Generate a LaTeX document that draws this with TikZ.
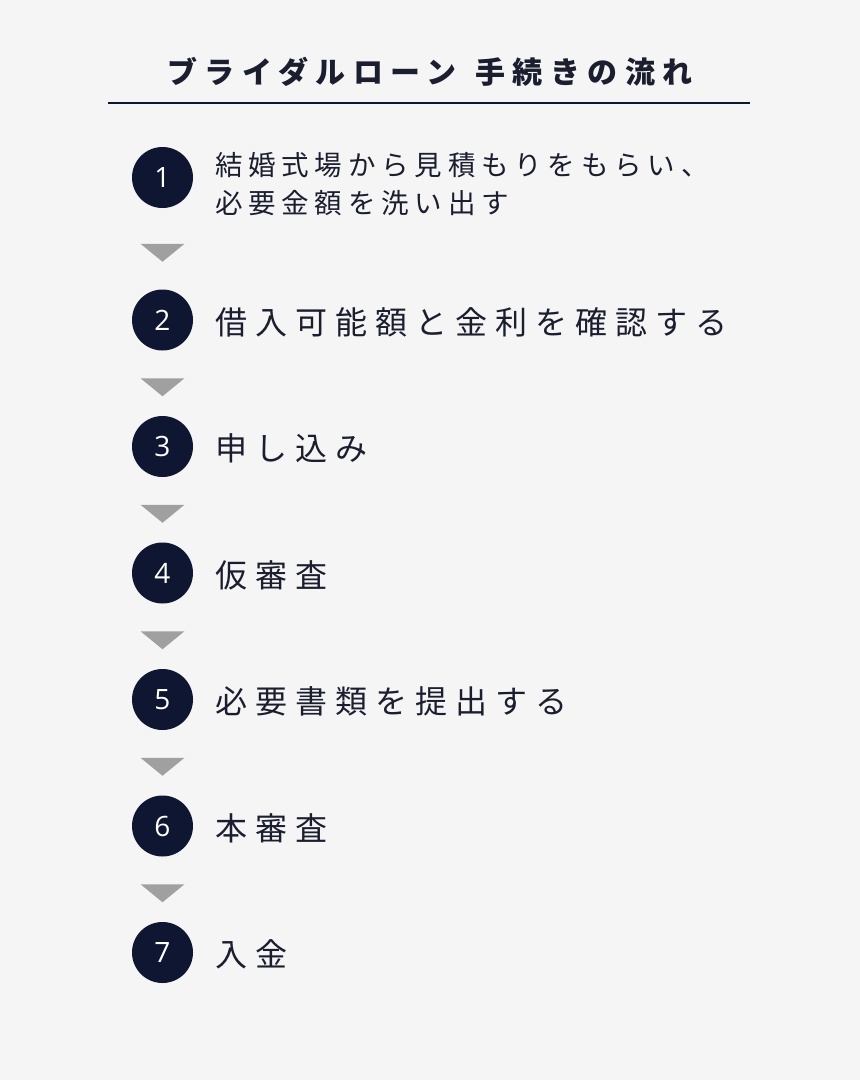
\documentclass[tikz,border=0pt]{standalone}
\usepackage{fontspec}
\setmainfont{Noto Sans CJK JP}
\newfontfamily\jpfont[LetterSpace=25]{Noto Sans CJK JP}
\newfontfamily\numfont{Open Sans}
\usetikzlibrary{positioning,calc}
\definecolor{navy}{HTML}{0F1631}
\definecolor{bggray}{HTML}{F5F5F5}
\definecolor{arrowgray}{HTML}{A0A0A0}
\definecolor{inkblue}{HTML}{1B1E2E}

\begin{document}
\begin{tikzpicture}[x=1pt, y=-1pt, num/.style={circle, fill=navy, minimum size=61pt, inner sep=0pt, text=white, font=\numfont\fontsize{28}{32}\selectfont}, steptext/.style={anchor=west, inner sep=0pt, text=inkblue, font=\jpfont\fontsize{32}{40}\selectfont}, down/.style={fill=arrowgray}]
  \fill[bggray] (0,0) rectangle (860,1080);
  \useasboundingbox (0,0) rectangle (860,1080);

  % title and rule
  \node[text=inkblue, font=\jpfont\bfseries\fontsize{30}{34}\selectfont] (title) at (430,72) {ブライダルローン\hspace{4pt} 手続きの流れ};
  \coordinate (ruleL) at (108,103);
  \coordinate (ruleR) at (750,103);
  \draw[navy, line width=1.5pt] (ruleL) -- (ruleR);

  % steps
  \node[num] (s1) at (162.5,177.5) {1};
  \node[steptext, align=left, font=\jpfont\addfontfeature{LetterSpace=21}\fontsize{27.5}{38.5}\selectfont] (t1) at (215,184) {結婚式場から見積もりをもらい、\\必要金額を洗い出す};
  \foreach \i/\y/\txt in {2/320/借入可能額と金利を確認する, 3/446.5/申し込み, 4/573/仮審査, 5/699.5/必要書類を提出する, 6/826/本審査, 7/952.5/入金} {
    \node[num] (s\i) at (162.5,\y) {\i};
    \node[steptext, right=22pt of s\i, yshift=-2pt] (t\i) {\txt};
  }

  % arrows between steps
  \foreach \i/\j in {1/2, 2/3, 3/4, 4/5, 5/6, 6/7} {
    \coordinate (m\i) at ($(s\i.south)!0.5!(s\j.north)+(0,4)$);
    \fill[down] ($(m\i)+(-22,-9)$) -- ($(m\i)+(22,-9)$) -- ($(m\i)+(0,9)$) -- cycle;
  }
\end{tikzpicture}
\end{document}
